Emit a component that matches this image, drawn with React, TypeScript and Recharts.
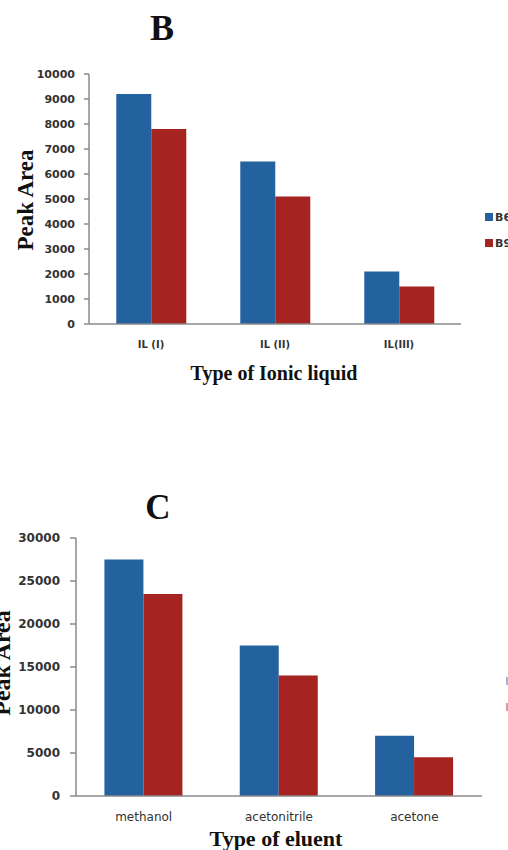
import React from 'react';
import { BarChart, Bar, XAxis, YAxis } from 'recharts';

const ilCategories = ['IL (I)', 'IL (II)', 'IL(III)'];
const ilB6 = [9200, 6500, 2100];
const ilB9 = [7800, 5100, 1500];
const ilTicks = [0, 1000, 2000, 3000, 4000, 5000, 6000, 7000, 8000, 9000, 10000];

const eluentCategories = ['methanol', 'acetonitrile', 'acetone'];
const eluentB6 = [27500, 17500, 7000];
const eluentB9 = [23500, 14000, 4500];
const eluentTicks = [0, 5000, 10000, 15000, 20000, 25000, 30000];

const seriesNames = ['B6', 'B9'];
const seriesColors = ['#23619F', '#A52421'];
const edgeTicks = [0, 1, 2, 3];

const ilData = ilCategories.map((c, i) => ({ name: c, idx: i + 0.5, B6: ilB6[i], B9: ilB9[i] }));
const eluentData = eluentCategories.map((c, i) => ({ name: c, idx: i + 0.5, B6: eluentB6[i], B9: eluentB9[i] }));

const AXIS = '#8a8a8a';
const SANS = '"DejaVu Sans", Verdana, sans-serif';
const SERIF = '"Liberation Serif", "Times New Roman", serif';

function Legend({ left, top, opacity }: { left: number; top: number; opacity: number }) {
  return (
    <div style={{ position: 'absolute', left, top, opacity, fontFamily: SANS, fontSize: 11, fontWeight: 'bold', color: '#333', whiteSpace: 'nowrap' }}>
      {seriesNames.map((n, i) => (
        <div key={n} style={{ height: 26, display: 'flex', alignItems: 'center' }}>
          <span style={{ display: 'inline-block', width: 8, height: 8, background: seriesColors[i], marginRight: 2 }} />
          <span>{n}</span>
        </div>
      ))}
    </div>
  );
}

export default function App() {
  return (
    <div style={{ position: 'absolute', left: 0, top: 0, width: 508, height: 850, background: '#fff', overflow: 'hidden' }}>
      <div style={{ position: 'absolute', left: 0, top: 0 }}>
        <BarChart width={508} height={420} data={ilData} margin={{ top: 74, right: 47, bottom: 65, left: 0 }} barGap={0} barCategoryGap="22%">
          <XAxis xAxisId="a" type="number" dataKey="idx" domain={[0, 3]} ticks={edgeTicks} tick={false} tickSize={5} height={1}
            axisLine={{ stroke: AXIS, strokeWidth: 1.5 }} tickLine={{ stroke: AXIS, strokeWidth: 1.5 }} allowDataOverflow />
          <XAxis xAxisId="b" dataKey="name" height={30} axisLine={false} tickLine={false} tickSize={0} tickMargin={16}
            tick={{ fontFamily: SANS, fontSize: 10, fontWeight: 'bold', fill: '#333' }} interval={0} />
          <YAxis width={89} domain={[0, 10000]} ticks={ilTicks} interval={0} tickSize={5} tickMargin={9}
            axisLine={{ stroke: AXIS, strokeWidth: 1.5 }} tickLine={{ stroke: AXIS, strokeWidth: 1.5 }}
            tick={{ fontFamily: SANS, fontSize: 11, fontWeight: 'bold', fill: '#333' }} />
          <Bar xAxisId="b" dataKey="B6" fill={seriesColors[0]} isAnimationActive={false} />
          <Bar xAxisId="b" dataKey="B9" fill={seriesColors[1]} isAnimationActive={false} />
        </BarChart>
      </div>
      <div style={{ position: 'absolute', left: 0, top: 440 }}>
        <BarChart width={508} height={410} data={eluentData} margin={{ top: 98, right: 26, bottom: 23, left: 0 }} barGap={0} barCategoryGap="21%">
          <XAxis xAxisId="a" type="number" dataKey="idx" domain={[0, 3]} ticks={edgeTicks} tick={false} tickSize={5} height={1}
            axisLine={{ stroke: AXIS, strokeWidth: 1.5 }} tickLine={{ stroke: AXIS, strokeWidth: 1.5 }} allowDataOverflow />
          <XAxis xAxisId="b" dataKey="name" height={30} axisLine={false} tickLine={false} tickSize={0} tickMargin={15}
            tick={{ fontFamily: SANS, fontSize: 12, fill: '#333' }} interval={0} />
          <YAxis width={76} domain={[0, 30000]} ticks={eluentTicks} interval={0} tickSize={6} tickMargin={10}
            axisLine={{ stroke: AXIS, strokeWidth: 1.5 }} tickLine={{ stroke: AXIS, strokeWidth: 1.5 }}
            tick={{ fontFamily: SANS, fontSize: 12, fontWeight: 'bold', fill: '#333' }} />
          <Bar xAxisId="b" dataKey="B6" fill={seriesColors[0]} isAnimationActive={false} />
          <Bar xAxisId="b" dataKey="B9" fill={seriesColors[1]} isAnimationActive={false} />
        </BarChart>
      </div>
      <svg width={508} height={850} style={{ position: 'absolute', left: 0, top: 0, pointerEvents: 'none' }}>
        <g fontFamily={SERIF} fontWeight="bold" fill="#111">
          <text x={162} y={40} fontSize={36} textAnchor="middle">B</text>
          <text x={274} y={380} fontSize={20} textAnchor="middle">Type of Ionic liquid</text>
          <text transform="translate(33,200) rotate(-90)" fontSize={23} textAnchor="middle">Peak Area</text>
          <text x={158} y={519} fontSize={35} textAnchor="middle">C</text>
          <text x={276} y={846} fontSize={22} textAnchor="middle">Type of eluent</text>
          <text transform="translate(10,663) rotate(-90)" fontSize={24} textAnchor="middle">Peak Area</text>
        </g>
      </svg>
      <Legend left={485} top={204} opacity={1} />
      <Legend left={506} top={668} opacity={0.45} />
    </div>
  );
}
